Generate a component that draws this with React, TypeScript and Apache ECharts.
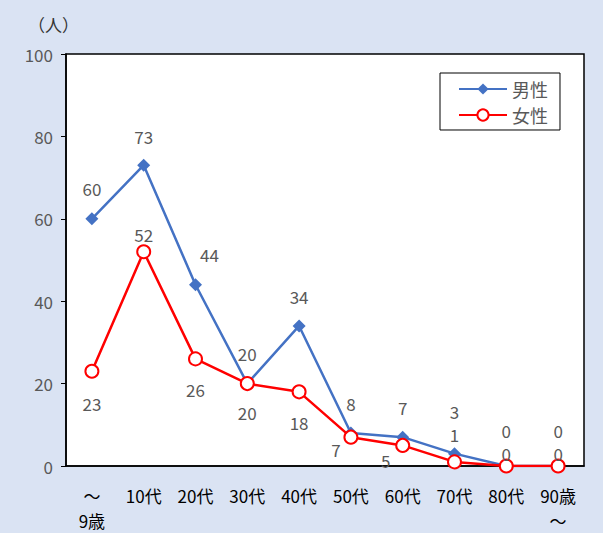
import React, { useEffect, useRef } from "react";
import * as echarts from "echarts";

const categories = ["～\n9歳", "10代", "20代", "30代", "40代", "50代", "60代", "70代", "80代", "90歳\n～"];
const maleValues = [60, 73, 44, 20, 34, 8, 7, 3, 0, 0];
const femaleValues = [23, 52, 26, 20, 18, 7, 5, 1, 0, 0];
const maleLabelOffsets = [[0, -30], [0, -29], [14, -30], [0, -30], [0, -29], [0, -30], [0, -30], [0, -42], [0, -36], [0, -36]];
const femaleLabelOffsets = [[0, 32], [0, -17], [0, 31], [0, 29], [0, 31], [-15, 12], [-17, 15], [0, -27], [0, -13], [0, -13]];
const yTicks = { min: 0, max: 100, interval: 20 };

const FONT = "'Noto Sans CJK JP', 'Noto Sans', sans-serif";
const TXT = "#595959";

export default function App() {
  const ref = useRef<HTMLDivElement>(null);
  useEffect(() => {
    document.body.style.margin = "0";
    const chart = echarts.init(ref.current!, null, { renderer: "svg" });
    const mk = (vals: number[], offs: number[][]) =>
      vals.map((v, i) => ({
        value: v,
        label: { show: true, position: "inside", offset: offs[i] },
      }));
    const lbl = { color: TXT, fontSize: 17, lineHeight: 15, fontFamily: FONT };
    chart.setOption({
      animation: false,
      backgroundColor: "#DAE3F3",
      textStyle: { fontFamily: FONT },
      grid: {
        left: 66, top: 54, width: 518, height: 412,
        show: true, backgroundColor: "#fff", borderColor: "#000", borderWidth: 1.5,
      },
      graphic: [
        { type: "text", left: 28, top: 16, style: { text: "（人）", font: `17px ${FONT}`, fill: "#333" } },
      ],
      legend: {
        left: 440, top: 73, orient: "vertical",
        itemWidth: 48, itemHeight: 14, itemGap: 8,
        padding: [7, 12, 6, 18],
        borderColor: "#000", borderWidth: 1, backgroundColor: "#fff",
        textStyle: { fontSize: 18, color: TXT, fontFamily: FONT },
        data: ["男性", "女性"],
      },
      xAxis: {
        type: "category", data: categories, boundaryGap: true,
        axisLine: { lineStyle: { color: "#000", width: 1.5 } },
        axisTick: { inside: true, length: 5, lineStyle: { color: "#000" } },
        axisLabel: { color: "#000", fontSize: 17, margin: 17, lineHeight: 25, fontFamily: FONT },
      },
      yAxis: {
        type: "value", min: yTicks.min, max: yTicks.max, interval: yTicks.interval,
        axisLine: { show: true, lineStyle: { color: "#000", width: 1.5 } },
        axisTick: { show: true, length: 5, lineStyle: { color: "#000" } },
        splitLine: { show: false },
        axisLabel: { color: TXT, fontSize: 17, margin: 13, fontFamily: FONT },
      },
      series: [
        {
          name: "男性", type: "line", data: mk(maleValues, maleLabelOffsets),
          symbol: "diamond", symbolSize: 13,
          itemStyle: { color: "#4472C4" },
          lineStyle: { color: "#4472C4", width: 2.5 },
          label: lbl,
          z: 2,
        },
        {
          name: "女性", type: "line", data: mk(femaleValues, femaleLabelOffsets),
          symbol: "circle", symbolSize: 13,
          itemStyle: { color: "#fff", borderColor: "#FF0000", borderWidth: 2 },
          lineStyle: { color: "#FF0000", width: 2.5 },
          label: lbl,
          z: 3,
        },
      ],
    });
    return () => chart.dispose();
  }, []);
  return <div ref={ref} style={{ width: 603, height: 533 }} />;
}
